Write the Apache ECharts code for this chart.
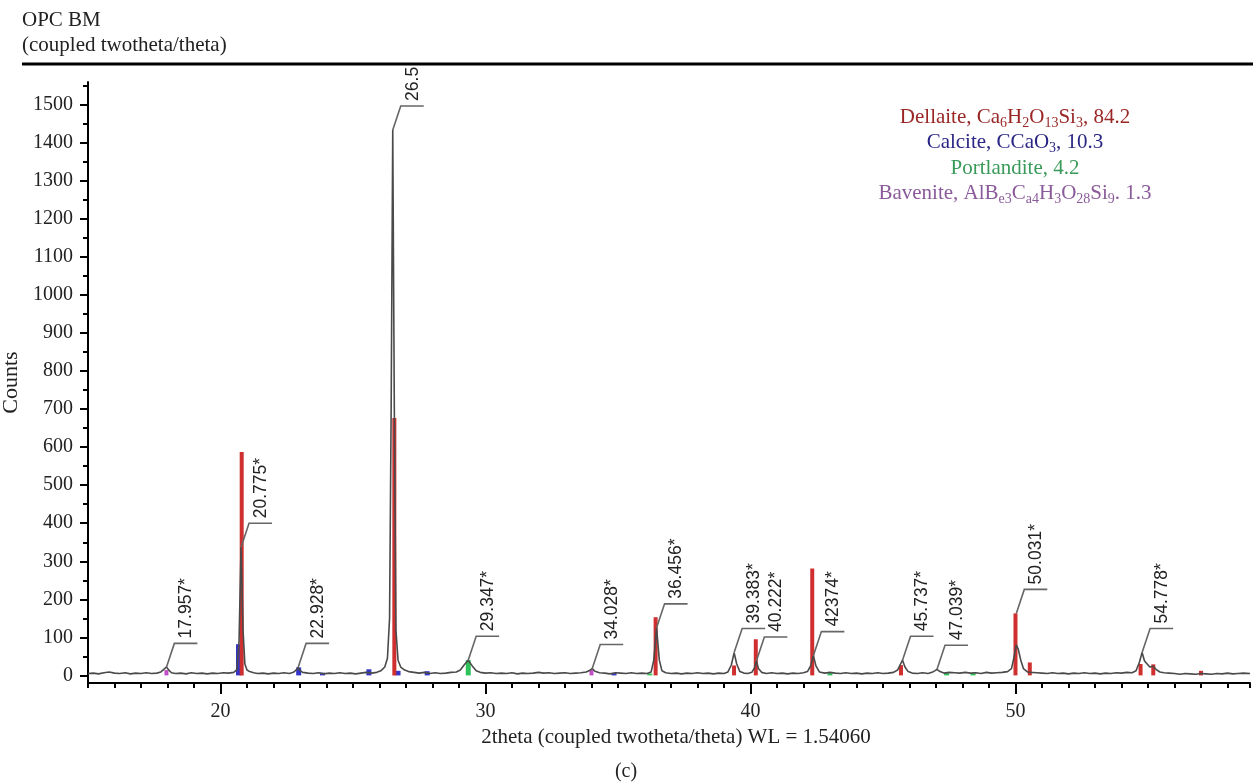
<!DOCTYPE html>
<html>
<head>
<meta charset="utf-8">
<script src="https://cdn.jsdelivr.net/npm/echarts@6/dist/echarts.min.js"></script>
<style>
html,body{margin:0;padding:0;background:#fff;}
#chart{width:1253px;height:784px;}
</style>
</head>
<body>
<div id="chart"></div>
<script>
// ---------- DATA ----------
// measured diffractogram (2theta, counts)
const pattern = [
[15.0,5],[15.2,6],[15.4,4],[15.6,7],[15.8,9],[16.0,6],[16.2,5],[16.4,7],[16.6,4],[16.8,6],
[17.0,5],[17.2,7],[17.4,5],[17.6,6],[17.75,9],[17.85,15],[17.957,22],[18.05,14],[18.15,7],[18.3,5],
[18.5,6],[18.7,4],[18.9,7],[19.1,5],[19.3,6],[19.5,4],[19.7,6],[19.9,5],[20.1,7],[20.3,6],
[20.5,8],[20.62,15],[20.7,90],[20.775,337],[20.85,120],[20.92,30],[21.0,14],[21.1,10],[21.25,7],[21.4,5],
[21.6,6],[21.8,4],[22.0,6],[22.2,5],[22.4,7],[22.6,5],[22.75,8],[22.85,14],[22.928,21],[23.0,13],
[23.1,8],[23.3,6],[23.5,5],[23.7,7],[23.9,4],[24.1,6],[24.3,5],[24.5,7],[24.7,5],[24.9,6],
[25.1,4],[25.3,6],[25.5,8],[25.7,6],[25.9,8],[26.05,12],[26.2,22],[26.3,45],[26.38,150],[26.44,700],
[26.5,1434],[26.56,700],[26.62,120],[26.7,40],[26.8,22],[26.95,14],[27.1,10],[27.3,8],[27.5,6],[27.7,8],
[27.9,5],[28.1,7],[28.3,5],[28.5,6],[28.7,8],[28.9,9],[29.05,14],[29.2,28],[29.347,40],[29.5,25],
[29.65,12],[29.8,8],[30.0,6],[30.2,7],[30.4,5],[30.6,6],[30.8,5],[31.0,7],[31.2,4],[31.4,6],
[31.6,5],[31.8,6],[32.0,8],[32.2,6],[32.4,7],[32.6,5],[32.8,6],[33.0,7],[33.2,5],[33.4,6],
[33.6,7],[33.8,9],[33.93,13],[34.028,18],[34.13,11],[34.3,7],[34.5,6],[34.7,4],[34.9,7],[35.1,6],
[35.3,5],[35.5,7],[35.7,5],[35.9,6],[36.1,5],[36.25,9],[36.35,40],[36.456,125],[36.56,40],[36.66,12],
[36.8,7],[37.0,5],[37.2,6],[37.4,4],[37.6,6],[37.8,5],[38.0,7],[38.2,5],[38.4,6],[38.6,4],
[38.8,6],[39.0,5],[39.15,9],[39.28,28],[39.383,60],[39.48,30],[39.6,10],[39.75,6],[39.9,5],[40.05,8],
[40.15,20],[40.222,38],[40.3,18],[40.42,8],[40.6,5],[40.8,7],[41.0,5],[41.2,6],[41.4,4],[41.6,6],
[41.8,5],[42.0,7],[42.15,10],[42.27,25],[42.374,52],[42.47,25],[42.6,9],[42.8,6],[43.0,8],[43.2,6],
[43.4,5],[43.6,7],[43.8,5],[44.0,6],[44.2,4],[44.4,6],[44.6,5],[44.8,7],[45.0,5],[45.2,6],
[45.4,8],[45.55,14],[45.65,28],[45.737,40],[45.83,22],[45.95,10],[46.1,6],[46.3,5],[46.5,7],[46.7,5],
[46.85,8],[46.95,12],[47.039,16],[47.15,10],[47.3,6],[47.5,8],[47.7,7],[47.9,6],[48.1,8],[48.3,6],
[48.5,7],[48.7,5],[48.9,8],[49.1,6],[49.3,7],[49.5,8],[49.7,10],[49.85,18],[49.95,50],[50.031,80],
[50.1,70],[50.2,40],[50.3,18],[50.45,9],[50.6,8],[50.8,7],[51.0,6],[51.2,5],[51.4,7],[51.6,5],
[51.8,6],[52.0,4],[52.2,6],[52.4,5],[52.6,7],[52.8,5],[53.0,6],[53.2,4],[53.4,6],[53.6,5],
[53.8,7],[54.0,6],[54.2,8],[54.4,7],[54.55,12],[54.68,35],[54.778,60],[54.87,38],[54.97,30],[55.07,22],
[55.2,24],[55.3,16],[55.45,9],[55.6,7],[55.8,6],[56.0,5],[56.2,3],[56.4,5],[56.6,4],[56.8,3],
[57.0,5],[57.2,4],[57.4,3],[57.6,5],[57.8,4],[58.0,6],[58.2,4],[58.4,5],[58.6,6],[58.85,5]
];

// reference stick patterns (2theta, counts)
const dellaiteSticks = [[20.8,587],[26.56,677],[36.42,153],[39.38,26],[40.2,95],[42.33,281],[45.68,27],[50.0,163],[50.54,34],[54.72,30],[55.2,29],[57.0,12]];
const calciteSticks = [[20.68,82],[22.95,21],[23.85,7],[25.6,16],[26.7,12],[27.8,11],[34.85,6]];
const portlanditeSticks = [[29.35,40],[36.2,5],[43.0,6],[47.4,6],[48.4,6]];
const baveniteSticks = [[17.96,14],[34.0,14]];

// peak annotations
const peakX = [17.957, 20.775, 22.928, 26.5, 29.347, 34.028, 36.456, 39.383, 40.222, 42.374, 45.737, 47.039, 50.031, 54.778];
const peakY = [21, 337, 21, 1434, 40, 18, 125, 60, 38, 52, 40, 16, 163, 60];
const peakLabels = ['17.957*','20.775*','22.928*','26.5','29.347*','34.028*','36.456*','39.383*','40.222*','42374*','45.737*','47.039*','50.031*','54.778*'];

// phase legend
const phaseNames = ['Dellaite', 'Calcite', 'Portlandite', 'Bavenite'];
const phaseFormulas = ['Ca_6H_2O_13Si_3', 'CCaO_3', '', 'AlB_e3C_a4H_3O_28Si_9'];
const phaseAmounts = [', 84.2', ', 10.3', '4.2', '. 1.3'];
const phaseColors = ['#9a2626', '#2a2684', '#3a9a5a', '#8a5a9a'];

// axis ticks
const yLabelValues = [0,100,200,300,400,500,600,700,800,900,1000,1100,1200,1300,1400,1500];
const yMinorValues = [50,150,250,350,450,550,650,750,850,950,1050,1150,1250,1350,1450,1550];
const xLabelValues = [20,30,40,50];

// ---------- CHART ----------
const SERIF = 'Liberation Serif';
const SANS = 'Liberation Sans';
const chart = echarts.init(document.getElementById('chart'));

function stickRender(color, w) {
  return function (params, api) {
    const top = api.coord([api.value(0), api.value(1)]);
    const bot = api.coord([api.value(0), 0]);
    return {type: 'rect', shape: {x: top[0] - w / 2, y: top[1], width: w, height: bot[1] - top[1]}, style: {fill: color}};
  };
}

function legendText(i) {
  const c = phaseColors[i];
  let s = '{a|' + phaseNames[i] + ', }';
  if (phaseFormulas[i]) {
    const parts = phaseFormulas[i].split(/_([a-z0-9]+)/);
    parts.forEach((p, k) => { if (p) s += (k % 2 ? '{s|' + p + '}' : '{a|' + p + '}'); });
  }
  s += '{a|' + phaseAmounts[i] + '}';
  return {
    type: 'text', x: 1015, y: 117 + i * 25.5,
    style: {
      text: s, align: 'center', verticalAlign: 'middle',
      rich: {
        a: {fontSize: 21, fontFamily: SERIF, fill: c, color: c, lineHeight: 26},
        s: {fontSize: 14, fontFamily: SERIF, fill: c, color: c, lineHeight: 19, verticalAlign: 'bottom'}
      }
    }
  };
}

const axisCommon = {
  min: -20, max: 1560, type: 'value', position: 'left',
  splitLine: {show: false}
};

const option = {
  animation: false,
  backgroundColor: '#fff',
  grid: {left: 88, right: 3, top: 82, bottom: 101, containLabel: false, outerBoundsMode: 'none'},
  xAxis: [
    {
      type: 'value', min: 15, max: 58.85, interval: 1, position: 'bottom',
      name: '2theta (coupled twotheta/theta) WL = 1.54060',
      nameLocation: 'middle', nameGap: 40,
      nameTextStyle: {fontFamily: SERIF, fontSize: 21, color: '#222', padding: [0, 0, 0, 14]},
      axisLine: {onZero: false, lineStyle: {color: '#000', width: 2}},
      axisTick: {show: true, length: 5, lineStyle: {color: '#000', width: 2}},
      axisLabel: {customValues: xLabelValues, margin: 19, fontFamily: SERIF, fontSize: 20, color: '#222'},
      splitLine: {show: false}
    },
    {
      type: 'value', min: 15, max: 58.85, position: 'bottom',
      axisLine: {show: false, onZero: false},
      axisTick: {show: true, customValues: xLabelValues, length: 11, lineStyle: {color: '#000', width: 2}},
      axisLabel: {show: false},
      splitLine: {show: false}
    }
  ],
  yAxis: [
    Object.assign({}, axisCommon, {
      name: 'Counts', nameLocation: 'middle', nameGap: 56,
      nameTextStyle: {fontFamily: SERIF, fontSize: 22, color: '#222'},
      axisLine: {show: true, onZero: false, lineStyle: {color: '#000', width: 2}},
      axisTick: {show: true, customValues: yLabelValues, length: 8, lineStyle: {color: '#000', width: 2}},
      axisLabel: {customValues: yLabelValues, formatter: v => String(v), margin: 15, fontFamily: SERIF, fontSize: 20, color: '#222'}
    }),
    Object.assign({}, axisCommon, {
      axisLine: {show: false, onZero: false},
      axisTick: {show: true, customValues: yMinorValues, length: 5, lineStyle: {color: '#000', width: 2}},
      axisLabel: {show: false}
    })
  ],
  series: [
    {type: 'custom', name: 'Bavenite', clip: true, renderItem: stickRender('#c04ec4', 4), encode: {x: 0, y: 1}, data: baveniteSticks, z: 2},
    {type: 'custom', name: 'Portlandite', clip: true, renderItem: stickRender('#2fc25a', 5), encode: {x: 0, y: 1}, data: portlanditeSticks, z: 2},
    {type: 'custom', name: 'Calcite', clip: true, renderItem: stickRender('#3434c8', 5), encode: {x: 0, y: 1}, data: calciteSticks, z: 2},
    {type: 'custom', name: 'Dellaite', clip: true, renderItem: stickRender('#cf2f2f', 4), encode: {x: 0, y: 1}, data: dellaiteSticks, z: 3},
    {
      type: 'line', name: 'OPC BM', data: pattern, showSymbol: false, z: 4,
      lineStyle: {color: '#4a4a4a', width: 1.6}
    },
    {
      type: 'custom', name: 'peaks', clip: false, z: 5,
      data: peakX.map((x, i) => [x, peakY[i], i]),
      encode: {x: 0, y: 1},
      renderItem: function (params, api) {
        const p = api.coord([api.value(0), api.value(1)]);
        const idx = api.value(2);
        const cx = p[0] + 8, cy = p[1] - 24;
        return {
          type: 'group',
          children: [
            {type: 'polyline', shape: {points: [[p[0], p[1]], [cx, cy], [cx + 23, cy]]}, style: {stroke: '#666', lineWidth: 1.6, fill: null}},
            {type: 'text', x: cx + 12, y: cy - 5, rotation: Math.PI / 2,
             style: {text: peakLabels[idx], font: '17.5px ' + SANS, fill: '#222', align: 'left', verticalAlign: 'middle'}}
          ]
        };
      }
    }
  ],
  graphic: [
    {type: 'text', left: 22, top: 10, style: {text: 'OPC BM', font: '21px ' + SERIF, fill: '#222'}},
    {type: 'text', left: 22, top: 35, style: {text: '(coupled twotheta/theta)', font: '21px ' + SERIF, fill: '#222'}},
    {type: 'line', shape: {x1: 22, y1: 64, x2: 1253, y2: 64}, style: {stroke: '#000', lineWidth: 3}},
    legendText(0), legendText(1), legendText(2), legendText(3),
    {type: 'text', x: 626, y: 772, style: {text: '(c)', font: '20px ' + SERIF, fill: '#222', align: 'center', verticalAlign: 'middle'}}
  ]
};
chart.setOption(option);
</script>
</body>
</html>
